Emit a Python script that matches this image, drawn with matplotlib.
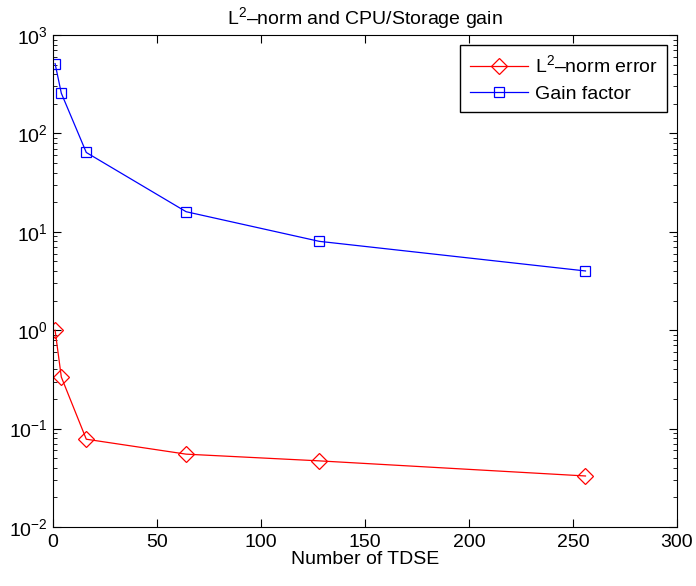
import numpy as np
import matplotlib
matplotlib.use("Agg")
import matplotlib.pyplot as plt

plt.rcParams['font.family'] = ['Liberation Sans', 'DejaVu Sans']
plt.rcParams['mathtext.fontset'] = 'custom'
plt.rcParams['mathtext.rm'] = 'Liberation Sans'
plt.rcParams['mathtext.it'] = 'Liberation Sans'

# data
n_tdse = [1, 4, 16, 64, 128, 256]
l2_error = [1.0, 0.334, 0.078, 0.055, 0.047, 0.033]
gain = [512, 256, 64, 16, 8, 4]

fig = plt.figure(figsize=(6.96, 5.86), dpi=100)
ax = fig.add_axes([53/696, 59/586, 624/696, 492/586])

ax.semilogy(n_tdse, l2_error, 'r-', marker='D', mfc='none', ms=8, mew=0.9, lw=0.9,
            label='L$^2$\u2013norm error')
ax.semilogy(n_tdse, gain, 'b-', marker='s', mfc='none', ms=7.5, mew=0.9, lw=0.9,
            label='Gain factor')

ax.set_xlim(0, 300)
ax.set_ylim(1e-2, 1e3)
ax.set_xticks([0, 50, 100, 150, 200, 250, 300])
ax.tick_params(which='both', direction='in', top=True, right=True, labelsize=14)
ax.tick_params(which='major', length=6)
ax.tick_params(which='minor', length=3)
ax.tick_params(axis='x', pad=5)
ax.tick_params(axis='y', pad=4)

ax.set_title('L$^2$\u2013norm and CPU/Storage gain', fontsize=14, pad=8)
ax.set_xlabel('Number of TDSE', fontsize=14, labelpad=0)

leg = ax.legend(loc='upper right', fontsize=14, fancybox=False, edgecolor='black',
                framealpha=1, handlelength=3.0, handletextpad=0.35,
                borderaxespad=0.5, borderpad=0.5, labelspacing=0.45)
leg.get_frame().set_linewidth(1.0)

fig.savefig('out.png', dpi=100)
